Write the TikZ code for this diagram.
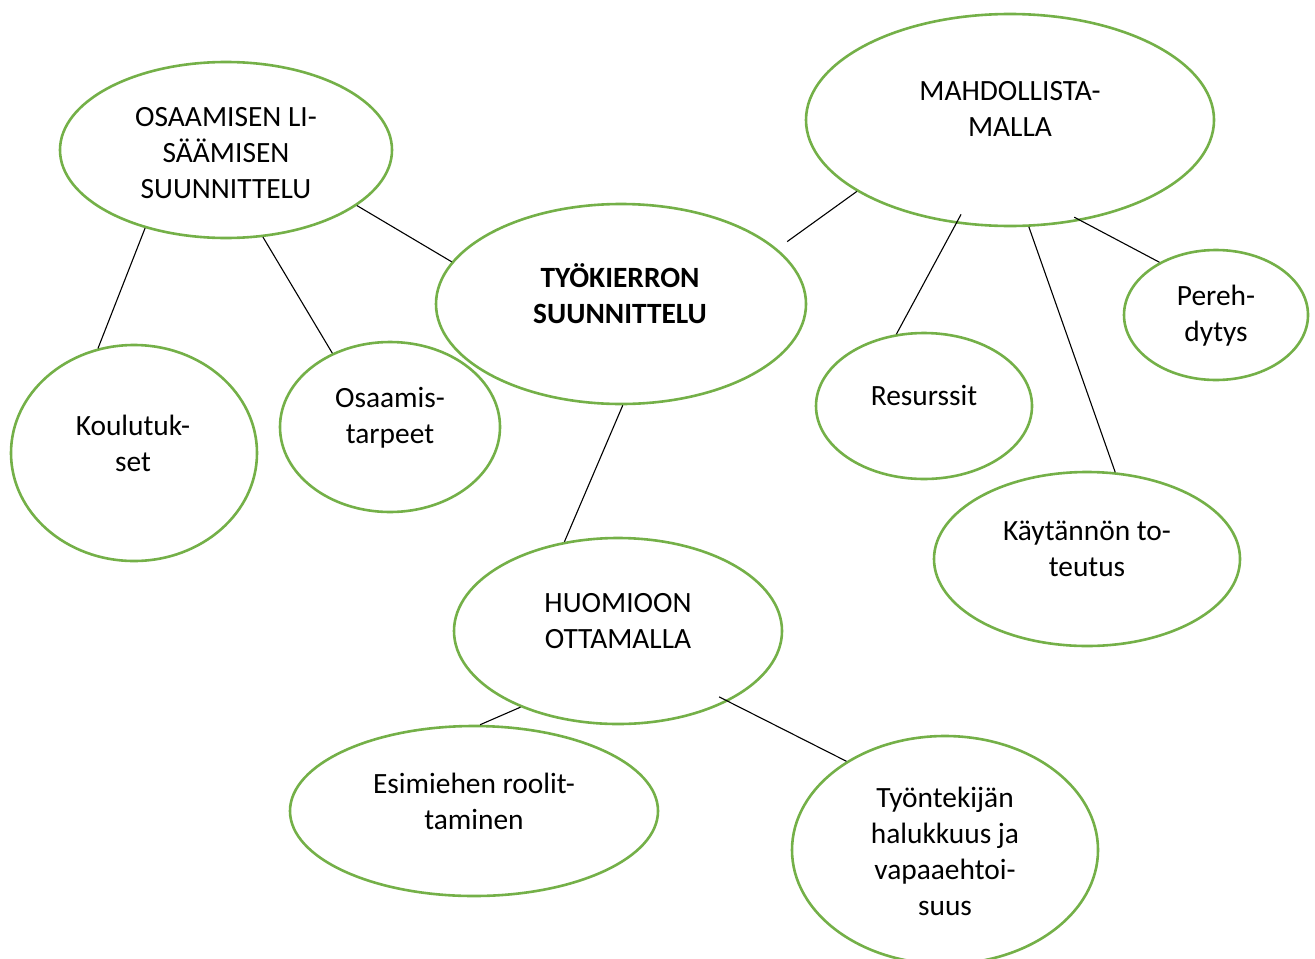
\documentclass[tikz,border=0pt]{standalone}
\usepackage{fontspec}
\setmainfont{Carlito}
\usetikzlibrary{shapes.geometric}
\definecolor{ellgreen}{RGB}{116,176,72}
\tikzset{
  ell/.style={draw=ellgreen, line width=1.3pt, fill=white, ellipse, inner sep=0pt},
  lbl/.style={align=center, inner sep=0pt, font=\fontsize{14.7pt}{18pt}\selectfont},
  conn/.style={draw=black, line width=0.55pt}
}
\begin{document}
\begin{tikzpicture}[x=0.5pt, y=-0.5pt]
\useasboundingbox (0,0) rectangle (1315,958);
\clip (0,0) rectangle (1315,958);
% ellipses
\node[ell, minimum width=166pt, minimum height=88pt] (n1) at (226,150) {};
\node[ell, minimum width=204pt, minimum height=106pt] (n2) at (1010,120) {};
\node[ell, minimum width=185pt, minimum height=100pt] (n3) at (621,304) {};
\node[ell, minimum width=123pt, minimum height=108pt] (n4) at (134,453) {};
\node[ell, minimum width=110pt, minimum height=85pt] (n5) at (390,427) {};
\node[ell, minimum width=108pt, minimum height=73pt] (n6) at (924,406) {};
\node[ell, minimum width=92pt, minimum height=65pt] (n7) at (1216,315) {};
\node[ell, minimum width=153pt, minimum height=87pt] (n8) at (1087,559) {};
\node[ell, minimum width=164pt, minimum height=93pt] (n9) at (618,631) {};
\node[ell, minimum width=184pt, minimum height=85pt] (n10) at (474,811) {};
\node[ell, minimum width=153pt, minimum height=114pt] (n11) at (945,850) {};
% texts
\node[lbl] (t1) at (226,153) {OSAAMISEN LI-\\SÄÄMISEN\\SUUNNITTELU};
\node[lbl] (t2) at (1010,109) {MAHDOLLISTA-\\MALLA};
\node[lbl, font=\fontsize{14.7pt}{18pt}\selectfont\bfseries] (t3) at (620,294) {TYÖKIERRON\\SUUNNITTELU};
\node[lbl] (t4) at (133,443) {Koulutuk-\\set};
\node[lbl] (t5) at (390,418) {Osaamis-\\tarpeet};
\node[lbl] (t6) at (924,395) {Resurssit};
\node[lbl] (t7) at (1216,316) {Pereh-\\dytys};
\node[lbl] (t8) at (1087,549) {Käytännön to-\\teutus};
\node[lbl] (t9) at (618,621) {HUOMIOON\\OTTAMALLA};
\node[lbl] (t10) at (474,801) {Esimiehen roolit-\\taminen};
\node[lbl] (t11) at (945,851) {Työntekijän\\halukkuus ja\\vapaaehtoi-\\suus};
% connectors
\draw[conn] (n1.-23) -- (n3.166);
\draw[conn] (n1.-136) -- (n4.109);
\draw[conn] (n1.-67) -- (n5.128);
\draw[conn] ([shift={(14,-4)}]n3.21) -- (n2.-155);
\draw[conn] ([shift={(6,-9)}]n2.-118) -- (n6.111);
\draw[conn] (n2.-80) -- (n8.72);
\draw[conn] ([shift={(-4,-4)}]n2.-56) -- (n7.137);
\draw[conn] (n3.-89) -- (n9.121);
\draw[conn] (n9.-142) -- (n10.86);
\draw[conn] ([shift={(-8,-5)}]n9.-33) -- (n11.138);
\end{tikzpicture}
\end{document}
